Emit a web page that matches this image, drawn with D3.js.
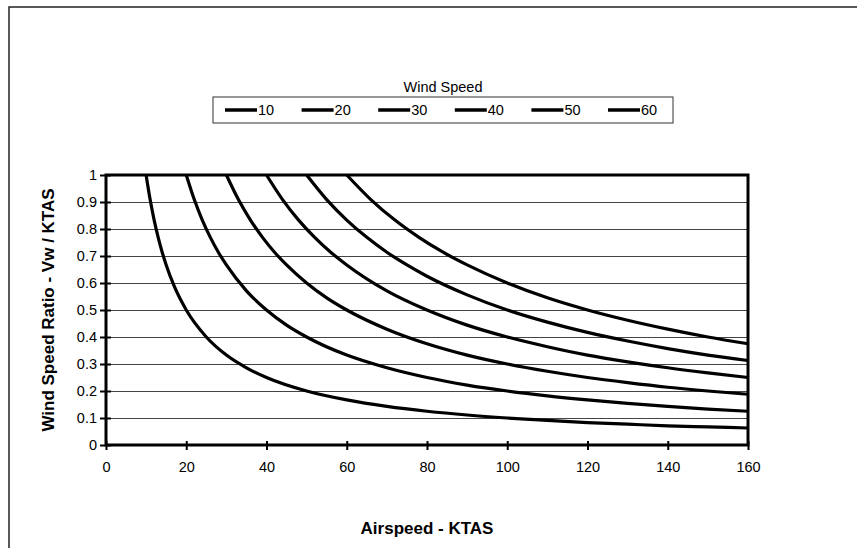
<!DOCTYPE html>
<meta charset="utf-8">
<head>
<style>
body { margin: 0; background: #fff; }
text { font-family: "Liberation Sans", Arial, sans-serif; fill: #000; }
.grid line { stroke: #444; stroke-width: 1.2; }
.curve { fill: none; stroke: #000; stroke-width: 3.2; }
</style>
</head>
<body>
<script src="https://cdnjs.cloudflare.com/ajax/libs/d3/7.8.5/d3.min.js"></script>
<script>
//---------------------------DATA---------------------------//
var windSpeeds = [10, 20, 30, 40, 50, 60];
var xTicks = [0, 20, 40, 60, 80, 100, 120, 140, 160];
var yTicks = [0, 0.1, 0.2, 0.3, 0.4, 0.5, 0.6, 0.7, 0.8, 0.9, 1];

// airspeed (KTAS) and read ratio for each wind speed curve
var ktas10  = [10, 11, 12, 13, 14, 15, 17, 20, 25, 30, 35, 40, 50, 60, 70, 80, 90, 100, 110, 120, 130, 140, 150, 160];
var ratio10 = [1, .909, .833, .769, .714, .667, .588, .5, .4, .333, .286, .25, .2, .167, .143, .125, .111, .1, .091, .083, .077, .071, .067, .063];
var ktas20  = [20, 22, 24, 26, 28, 30, 35, 40, 45, 50, 60, 70, 80, 90, 100, 110, 120, 130, 140, 150, 160];
var ratio20 = [1, .909, .833, .769, .714, .667, .571, .5, .444, .4, .333, .286, .25, .222, .2, .182, .167, .154, .143, .133, .125];
var ktas30  = [30, 33, 36, 39, 42, 45, 50, 55, 60, 70, 80, 90, 100, 110, 120, 130, 140, 150, 160];
var ratio30 = [1, .909, .833, .769, .714, .667, .6, .545, .5, .429, .375, .333, .3, .273, .25, .231, .214, .2, .188];
var ktas40  = [40, 44, 48, 52, 56, 60, 70, 80, 90, 100, 110, 120, 130, 140, 150, 160];
var ratio40 = [1, .909, .833, .769, .714, .667, .571, .5, .444, .4, .364, .333, .308, .286, .267, .25];
var ktas50  = [50, 55, 60, 65, 70, 75, 80, 90, 100, 110, 120, 130, 140, 150, 160];
var ratio50 = [1, .909, .833, .769, .714, .667, .625, .556, .5, .455, .417, .385, .357, .333, .313];
var ktas60  = [60, 66, 72, 78, 84, 90, 100, 110, 120, 130, 140, 150, 160];
var ratio60 = [1, .909, .833, .769, .714, .667, .6, .545, .5, .462, .429, .4, .375];

var series = [
    {id: "10", x: ktas10, y: ratio10},
    {id: "20", x: ktas20, y: ratio20},
    {id: "30", x: ktas30, y: ratio30},
    {id: "40", x: ktas40, y: ratio40},
    {id: "50", x: ktas50, y: ratio50},
    {id: "60", x: ktas60, y: ratio60}
];

//---------------------------SVG----------------------------//
var width = 857, height = 548;
var plot = {left: 106, right: 748, top: 175, bottom: 445};

var svg = d3.select("body").append("svg")
    .attr("width", width)
    .attr("height", height);

// outer chart frame (only left and top edges show)
svg.append("path")
    .attr("d", "M9," + height + "V7H" + width)
    .attr("fill", "none")
    .attr("stroke", "#222")
    .attr("stroke-width", 1.5);

//--------------------------SCALES--------------------------//
var xScale = d3.scaleLinear().domain([0, 160]).range([plot.left, plot.right]);
var yScale = d3.scaleLinear().domain([0, 1]).range([plot.bottom, plot.top]);

//---------------------------GRID---------------------------//
svg.append("g")
    .attr("class", "grid")
    .selectAll("line")
    .data(yTicks.filter(function(d) { return d > 0 && d < 1; }))
    .enter().append("line")
    .attr("x1", plot.left)
    .attr("x2", plot.right)
    .attr("y1", function(d) { return yScale(d) + 0.5; })
    .attr("y2", function(d) { return yScale(d) + 0.5; });

//---------------------------AXES---------------------------//
var yaxis = d3.axisLeft(yScale)
    .tickValues(yTicks)
    .tickSizeInner(6)
    .tickSizeOuter(0)
    .tickPadding(3)
    .tickFormat(d3.format("~g"));

var xaxis = d3.axisBottom(xScale)
    .tickValues(xTicks)
    .tickSizeInner(5)
    .tickSizeOuter(0)
    .tickPadding(12)
    .tickFormat(d3.format("d"));

var gy = svg.append("g")
    .attr("transform", "translate(" + plot.left + ",0)")
    .call(yaxis);
var gx = svg.append("g")
    .attr("transform", "translate(0," + plot.bottom + ")")
    .call(xaxis);

[gx, gy].forEach(function(g) {
    g.select(".domain").remove();
    g.selectAll(".tick line").attr("stroke", "#000").attr("stroke-width", 2);
    g.selectAll("text").style("font-size", "14.5px").attr("fill", "#000");
});
// ticks cross the axis line
gy.selectAll(".tick line").attr("x1", 5);
gx.selectAll(".tick line").attr("y1", -4);

//--------------------------CURVES--------------------------//
var line = d3.line()
    .x(function(d) { return xScale(d[0]); })
    .y(function(d) { return yScale(d[1]); })
    .curve(d3.curveMonotoneX);

svg.append("g").selectAll("path")
    .data(series)
    .enter().append("path")
    .attr("class", "curve")
    .attr("d", function(s) {
        return line(s.x.map(function(v, i) { return [v, s.y[i]]; }));
    });

// plot area frame
svg.append("rect")
    .attr("x", plot.left)
    .attr("y", plot.top)
    .attr("width", plot.right - plot.left)
    .attr("height", plot.bottom - plot.top)
    .attr("fill", "none")
    .attr("stroke", "#000")
    .attr("stroke-width", 3);

//--------------------------TITLES--------------------------//
svg.append("text")
    .attr("x", (plot.left + plot.right) / 2)
    .attr("y", 534)
    .attr("text-anchor", "middle")
    .style("font-size", "17px")
    .style("font-weight", "bold")
    .text("Airspeed - KTAS");

svg.append("text")
    .attr("transform", "translate(54," + ((plot.top + plot.bottom) / 2) + ") rotate(-90)")
    .attr("text-anchor", "middle")
    .style("font-size", "17px")
    .style("font-weight", "bold")
    .text("Wind Speed Ratio - Vw / KTAS");

//--------------------------LEGEND--------------------------//
var legend = {x: 213, y: 97, w: 460, h: 26, step: 76.6};

svg.append("text")
    .attr("x", legend.x + legend.w / 2)
    .attr("y", legend.y - 5)
    .attr("text-anchor", "middle")
    .style("font-size", "14.5px")
    .text("Wind Speed");

svg.append("rect")
    .attr("x", legend.x)
    .attr("y", legend.y)
    .attr("width", legend.w)
    .attr("height", legend.h)
    .attr("fill", "#fff")
    .attr("stroke", "#333")
    .attr("stroke-width", 1);

var items = svg.append("g").selectAll("g")
    .data(windSpeeds)
    .enter().append("g")
    .attr("transform", function(d, i) {
        return "translate(" + (legend.x + 12 + i * legend.step) + "," + (legend.y + legend.h / 2) + ")";
    });

items.append("line")
    .attr("x1", 0).attr("x2", 32)
    .attr("stroke", "#000")
    .attr("stroke-width", 3.5);

items.append("text")
    .attr("x", 33)
    .attr("y", 5)
    .style("font-size", "14.5px")
    .text(function(d) { return d; });
</script>
</body>
</html>
